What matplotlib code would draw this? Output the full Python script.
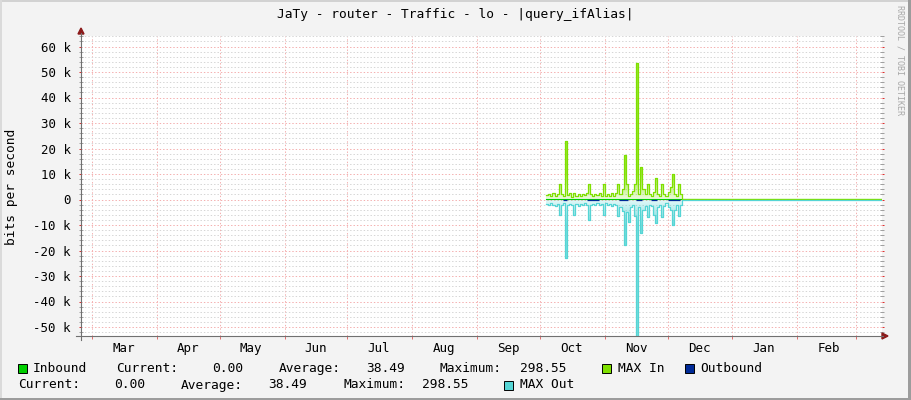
import numpy as np
import matplotlib
matplotlib.use("Agg")
import matplotlib.pyplot as plt
from matplotlib.patches import Rectangle, Polygon
from matplotlib.lines import Line2D
from matplotlib.colors import to_rgb
from matplotlib.ticker import FixedLocator, NullFormatter, FixedFormatter

# ---------------- data ----------------
month_names = ["Mar", "Apr", "May", "Jun", "Jul", "Aug", "Sep", "Oct", "Nov", "Dec", "Jan", "Feb"]
month_start_days = [0, 31, 61, 92, 122, 153, 184, 214, 245, 275, 306, 337, 365]  # days after Mar 1
y_ticks = [-50, -40, -30, -20, -10, 0, 10, 20, 30, 40, 50, 60]           # in k bits/s
y_tick_labels = [f"{v} k" if v != 0 else "0" for v in y_ticks]

# daily samples (k bits/s), day 217 .. 281 after Mar 1
active_days = list(range(217, 282))
max_in = [1.8, 2.2, 1.5, 2.4, 1.2, 2.0, 6.0, 2.0, 1.5, 23.0,
          1.8, 2.4, 1.0, 2.5, 1.5, 2.0, 1.2, 2.2, 1.6, 2.5,
          6.0, 2.0, 1.4, 2.2, 1.6, 2.4, 1.5, 6.0, 1.2, 2.0,
          1.5, 2.4, 1.2, 2.6, 6.0, 2.2, 4.0, 17.5, 6.0, 1.5,
          2.0, 3.5, 6.0, 53.4, 2.0, 12.9, 4.0, 2.2, 6.0, 2.0,
          1.5, 3.0, 8.6, 2.0, 1.2, 6.0, 2.2, 1.5, 3.0, 5.0,
          9.9, 2.0, 1.5, 6.0, 2.0]
max_out = [-1.8, -2.2, -1.5, -2.0, -2.4, -1.6, -6.0, -2.0, -1.5, -23.0,
           -2.0, -1.6, -2.2, -6.0, -1.8, -2.4, -1.6, -2.0, -1.5, -2.2,
           -8.0, -2.0, -1.6, -2.2, -1.4, -2.0, -1.8, -6.0, -1.5, -2.2,
           -1.8, -2.4, -1.6, -2.0, -6.5, -3.0, -4.5, -17.8, -5.0, -9.0,
           -3.0, -2.0, -6.5, -60.0, -3.0, -13.0, -4.0, -2.5, -6.7, -2.0,
           -2.5, -6.0, -9.3, -3.0, -2.0, -6.7, -2.5, -1.5, -3.0, -4.0,
           -10.0, -4.0, -2.0, -6.5, -2.0]
# quiet period afterwards (flat, near zero)
tail_days = [282, 377]
tail_in = [0.2, 0.2]
tail_out = [-0.2, -0.2]
# visible pieces of the Outbound average line (start day, end day), value ~0
outbound_segments = [(225, 227), (236.5, 242), (252, 256), (260, 263), (267, 270), (275, 281)]

legend_row1 = [("Inbound", 33), ("Current:", 116), ("0.00", 212), ("Average:", 279),
               ("38.49", 366), ("Maximum:", 440), ("298.55", 520), ("MAX In", 618), ("Outbound", 700)]
legend_row2 = [("Current:", 18), ("0.00", 114), ("Average:", 181), ("38.49", 268),
               ("Maximum:", 343), ("298.55", 422), ("MAX Out", 520)]

# ---------------- style ----------------
W, H = 911, 400
MONO = "DejaVu Sans Mono"
C_IN = "#00CF00"
C_MAXIN = "#7FE000"
C_OUT = "#002A97"
C_MAXOUT = "#55D5D5"
BACK = "#F3F3F3"

def fx(px):
    return px / W

def fy(py):
    return 1 - py / H

fig = plt.figure(figsize=(W / 100, H / 100), dpi=100, facecolor=BACK)
ax_l, ax_r, ax_t, ax_b = 81, 882, 36, 336
ax = fig.add_axes([fx(ax_l), fy(ax_b), (ax_r - ax_l) / W, (ax_b - ax_t) / H])
ax.set_facecolor("white")

px_per_day = 2.093
x0 = (ax_l - 92) / px_per_day
x1 = (ax_r - 92) / px_per_day
y_zero_px = 199.5
px_per_k = 2.55
ymin = -(ax_b - y_zero_px) / px_per_k
ymax = (y_zero_px - ax_t) / px_per_k

days_in = np.array(active_days + tail_days, dtype=float)
vin = np.array(max_in + tail_in)
vout = np.array(max_out + tail_out)
xs = np.append(days_in, days_in[-1])
vin_s = np.append(vin, vin[-1])
vout_s = np.append(vout, vout[-1])

def grad_fill(x, y, color, lo, hi):
    poly = ax.fill_between(x, 0, y, step="post", color="none", lw=0)
    n = 256
    yy = np.linspace(lo, hi, n)
    a = 0.15 + 0.65 * np.clip(np.abs(yy) / 10.0, 0, 1)
    rgba = np.zeros((n, 1, 4))
    rgba[..., :3] = to_rgb(color)
    rgba[:, 0, 3] = a
    im = ax.imshow(rgba, extent=(x0, x1, lo, hi), origin="lower", aspect="auto",
                   zorder=1.5, interpolation="bilinear")
    im.set_clip_path(poly.get_paths()[0], transform=ax.transData)

grad_fill(xs, vin_s, C_MAXIN, 0, ymax)
grad_fill(xs, vout_s, C_MAXOUT, ymin, 0)

ax.plot(xs, np.full_like(xs, 0.04), drawstyle="steps-post", color=C_IN, lw=0.8, zorder=2)
ax.plot(xs, vin_s, drawstyle="steps-post", color=C_MAXIN, lw=0.9, zorder=3)
ax.plot(xs, vout_s, drawstyle="steps-post", color=C_MAXOUT, lw=0.9, zorder=3.2)
for s, e in outbound_segments:
    ax.plot([s, e], [0, 0], color=C_OUT, lw=0.9, zorder=3.5, solid_capstyle="butt")

ax.set_xlim(x0, x1)
ax.set_ylim(ymin, ymax)

# grid / ticks
ax.yaxis.set_major_locator(FixedLocator(y_ticks))
ax.set_yticklabels(y_tick_labels)
ax.yaxis.set_minor_locator(FixedLocator([v for v in range(-52, 65, 2) if v % 10 != 0]))
ax.xaxis.set_major_locator(FixedLocator(month_start_days))
ax.xaxis.set_major_formatter(NullFormatter())
ax.xaxis.set_minor_locator(FixedLocator([d + 15 for d in month_start_days[:12]]))
ax.xaxis.set_minor_formatter(FixedFormatter(month_names))

dot = (0, (1.4, 2.0))
ax.grid(True, which="minor", axis="y", color="#D6D6D6", lw=0.72, linestyle=dot, zorder=0)
ax.grid(True, which="major", axis="y", color="#F4B0B0", lw=0.72, linestyle=dot, zorder=0)
ax.grid(True, which="major", axis="x", color="#F4B0B0", lw=0.72, linestyle=dot, zorder=0)
ax.set_axisbelow(True)

ax.tick_params(axis="y", which="major", direction="out", length=1.6, width=0.72,
               color="#E03030", labelsize=9, pad=5.8, right=True)
ax.tick_params(axis="y", which="minor", direction="inout", length=2.5, width=0.72,
               color="#A0A0A0", right=True)
ax.tick_params(axis="x", which="major", direction="out", length=2.5, width=0.72,
               color="#E07070")
ax.tick_params(axis="x", which="minor", length=0, labelsize=9, pad=4.6)
for lbl in ax.get_xticklabels(minor=True) + ax.get_yticklabels():
    lbl.set_fontfamily(MONO)

for sp in ax.spines.values():
    sp.set_visible(False)

# axis lines with arrows (figure pixel coords)
axis_col = "#707070"
arrow_col = "#8B1A1A"
fig.add_artist(Line2D([fx(81), fx(81)], [fy(340), fy(33)], color=axis_col, lw=0.8,
                      transform=fig.transFigure))
fig.add_artist(Line2D([fx(76), fx(883)], [fy(336), fy(336)], color=axis_col, lw=0.8,
                      transform=fig.transFigure))
fig.add_artist(Polygon([[fx(78), fy(34)], [fx(84), fy(34)], [fx(81), fy(28)]], closed=True,
                       color=arrow_col, transform=fig.transFigure))
fig.add_artist(Polygon([[fx(882), fy(333)], [fx(882), fy(339)], [fx(888), fy(336)]], closed=True,
                       color=arrow_col, transform=fig.transFigure))

# texts
fig.text(0.5, fy(14.5), "JaTy - router - Traffic - lo - |query_ifAlias|", ha="center", va="center",
         fontsize=9.3, family=MONO, color="black")
fig.text(fx(12), fy(186.5), "bits per second", rotation=90, ha="center", va="center",
         fontsize=9.3, family=MONO, color="black")
fig.text(fx(900), fy(60), "RRDTOOL / TOBI OETIKER", rotation=270, ha="center", va="center",
         fontsize=6, family=MONO, color="#A8A8A8")

# legend
row1_y, row2_y = 368.5, 385
def square(px, py, color):
    fig.add_artist(Rectangle((fx(px), fy(py + 4.5)), 9 / W, 9 / H, facecolor=color,
                             edgecolor="black", lw=0.7, transform=fig.transFigure))

square(18, row1_y, C_IN)
square(602, row1_y, C_MAXIN)
square(685, row1_y, C_OUT)
square(504, row2_y, C_MAXOUT)
for txt, px in legend_row1:
    fig.text(fx(px), fy(row1_y), txt, ha="left", va="center", fontsize=9.3, family=MONO)
for txt, px in legend_row2:
    fig.text(fx(px), fy(row2_y), txt, ha="left", va="center", fontsize=9.3, family=MONO)

# frame of the image
fig.add_artist(Rectangle((0, fy(2)), 1, 2 / H, facecolor="#D2D2D2", lw=0, transform=fig.transFigure))
fig.add_artist(Rectangle((0, 0), 2 / W, 1, facecolor="#DADADA", lw=0, transform=fig.transFigure))
fig.add_artist(Rectangle((fx(908), 0), 3 / W, 1, facecolor="#9C9C9C", lw=0, transform=fig.transFigure))
fig.add_artist(Rectangle((0, 0), 1, 2 / H, facecolor="#9C9C9C", lw=0, transform=fig.transFigure))

fig.savefig("out.png", dpi=100, facecolor=BACK)
